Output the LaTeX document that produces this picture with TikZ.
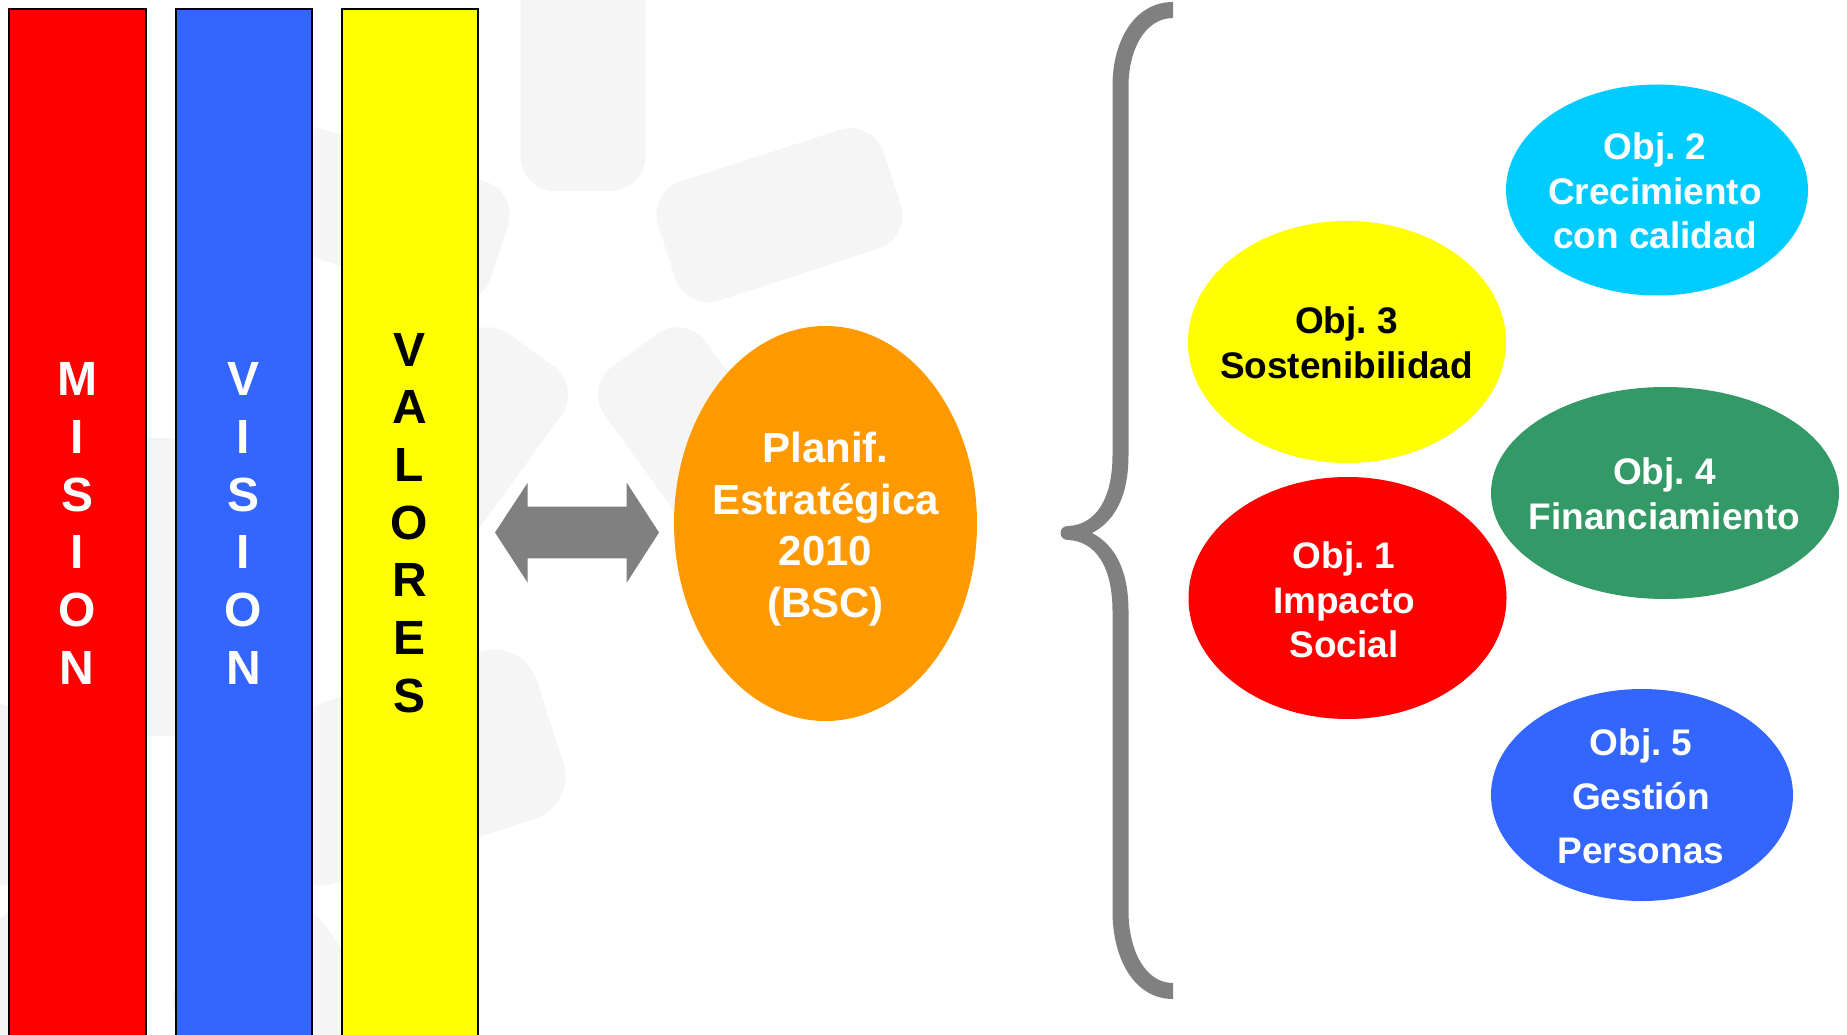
\documentclass[tikz,border=0pt]{standalone}
\usepackage{fontspec}
\setmainfont{Liberation Sans}
\usetikzlibrary{shapes.geometric}
\definecolor{petal}{RGB}{245,245,245}
\definecolor{cred}{RGB}{255,0,0}
\definecolor{cblue}{RGB}{51,102,255}
\definecolor{cyel}{RGB}{255,255,0}
\definecolor{corange}{RGB}{255,153,0}
\definecolor{ccyan}{RGB}{0,204,255}
\definecolor{cgreen}{RGB}{51,153,102}
\definecolor{cgray}{RGB}{128,128,128}
\begin{document}
\frenchspacing
\begin{tikzpicture}[x=1pt,y=-1pt,
  pillar/.style={draw=black,line width=2pt},
  pillartext/.style={font=\bfseries\fontsize{48}{57.7}\selectfont, align=center, inner sep=0pt},
  blob/.style={ellipse, inner sep=0pt, draw=none},
  objtext/.style={font=\bfseries\fontsize{37}{44.5}\selectfont, align=center, inner sep=0pt, text=white, text depth=0pt},
]
\useasboundingbox (0,0) rectangle (1847,1035);
\clip (0,0) rectangle (1847,1035);
\fill[white] (0,0) rectangle (1847,1035);

% faint background petals
\foreach \a in {90,18,-54,-126,162}{
  \fill[petal, rounded corners=35pt, shift={(583,279)}, rotate=\a] (88,-62.5) rectangle (325,62.5);
  \fill[petal, rounded corners=45pt, shift={(160,848)}, rotate=\a] (112,-88) rectangle (410,88);
}

% pillars
\draw[pillar, fill=cred] (9,9) rectangle (145.5,1045);
\draw[pillar, fill=cblue] (175.5,9) rectangle (311.5,1045);
\draw[pillar, fill=cyel] (341.5,9) rectangle (477.5,1045);
\node[pillartext, text=white] (mision) at (77.2,523.5) {M\\I\\S\\I\\O\\N};
\node[pillartext, text=white] (vision) at (243.5,523.5) {V\\I\\S\\I\\O\\N};
\node[pillartext, text=black] (valores) at (409.5,523) {V\\A\\L\\O\\R\\E\\S};

% double block arrow
\fill[cgray] (495,532.5) -- (527.7,482.7) -- (527.7,506.7) -- (626.7,506.7) -- (626.7,482.7)
  -- (659,532.5) -- (626.7,582.7) -- (626.7,558.3) -- (527.7,558.3) -- (527.7,582.7) -- cycle;

% central ellipse
\node[blob, fill=corange, minimum width=303pt, minimum height=395pt] (bsc) at (825.5,523.5) {};
\node[objtext, font=\bfseries\fontsize{42}{51.5}\selectfont] (bsctext) at (825.5,525) {Planif.\\Estratégica\\2010\\(BSC)};

% brace
\fill[cgray] (1173,2) .. controls (1135,2) and (1112.5,40) .. (1112.5,86)
 -- (1112.5,455)
 .. controls (1112.5,500) and (1095,525) .. (1068,526)
 .. controls (1058,526) and (1058,540) .. (1068,540)
 .. controls (1095,541) and (1112.5,566) .. (1112.5,611)
 -- (1112.5,911)
 .. controls (1112.5,960) and (1135,999) .. (1173,999)
 -- (1173,983)
 .. controls (1145,983) and (1128.5,950) .. (1128.5,911)
 -- (1128.5,611)
 .. controls (1128.5,570) and (1115,545) .. (1092,533)
 .. controls (1115,521) and (1128.5,496) .. (1128.5,455)
 -- (1128.5,86)
 .. controls (1128.5,50) and (1145,18) .. (1173,18)
 -- cycle;

% objectives
\node[blob, fill=ccyan, minimum width=302pt, minimum height=211pt] (obj2) at (1657,190) {};
\node[objtext] (obj2text) at (1655,191) {Obj. 2\\Crecimiento\\con calidad};

\node[blob, fill=cyel, minimum width=318pt, minimum height=242pt] (obj3) at (1347,342) {};
\node[objtext, text=black] (obj3text) at (1346.5,342.7) {Obj. 3\\Sostenibilidad};

\node[blob, fill=cgreen, minimum width=348pt, minimum height=212pt] (obj4) at (1665,493) {};
\node[objtext] (obj4text) at (1664.5,493.5) {Obj. 4\\Financiamiento};

\node[blob, fill=cred, minimum width=318pt, minimum height=242pt] (obj1) at (1347.5,598) {};
\node[objtext] (obj1text) at (1344,600) {Obj. 1\\Impacto\\Social};

\node[blob, fill=cblue, minimum width=302pt, minimum height=212pt] (obj5) at (1642,795) {};
\node[objtext, font=\bfseries\fontsize{37}{54}\selectfont] (obj5text) at (1641,796) {Obj. 5\\Gestión\\Personas};
\end{tikzpicture}
\end{document}
